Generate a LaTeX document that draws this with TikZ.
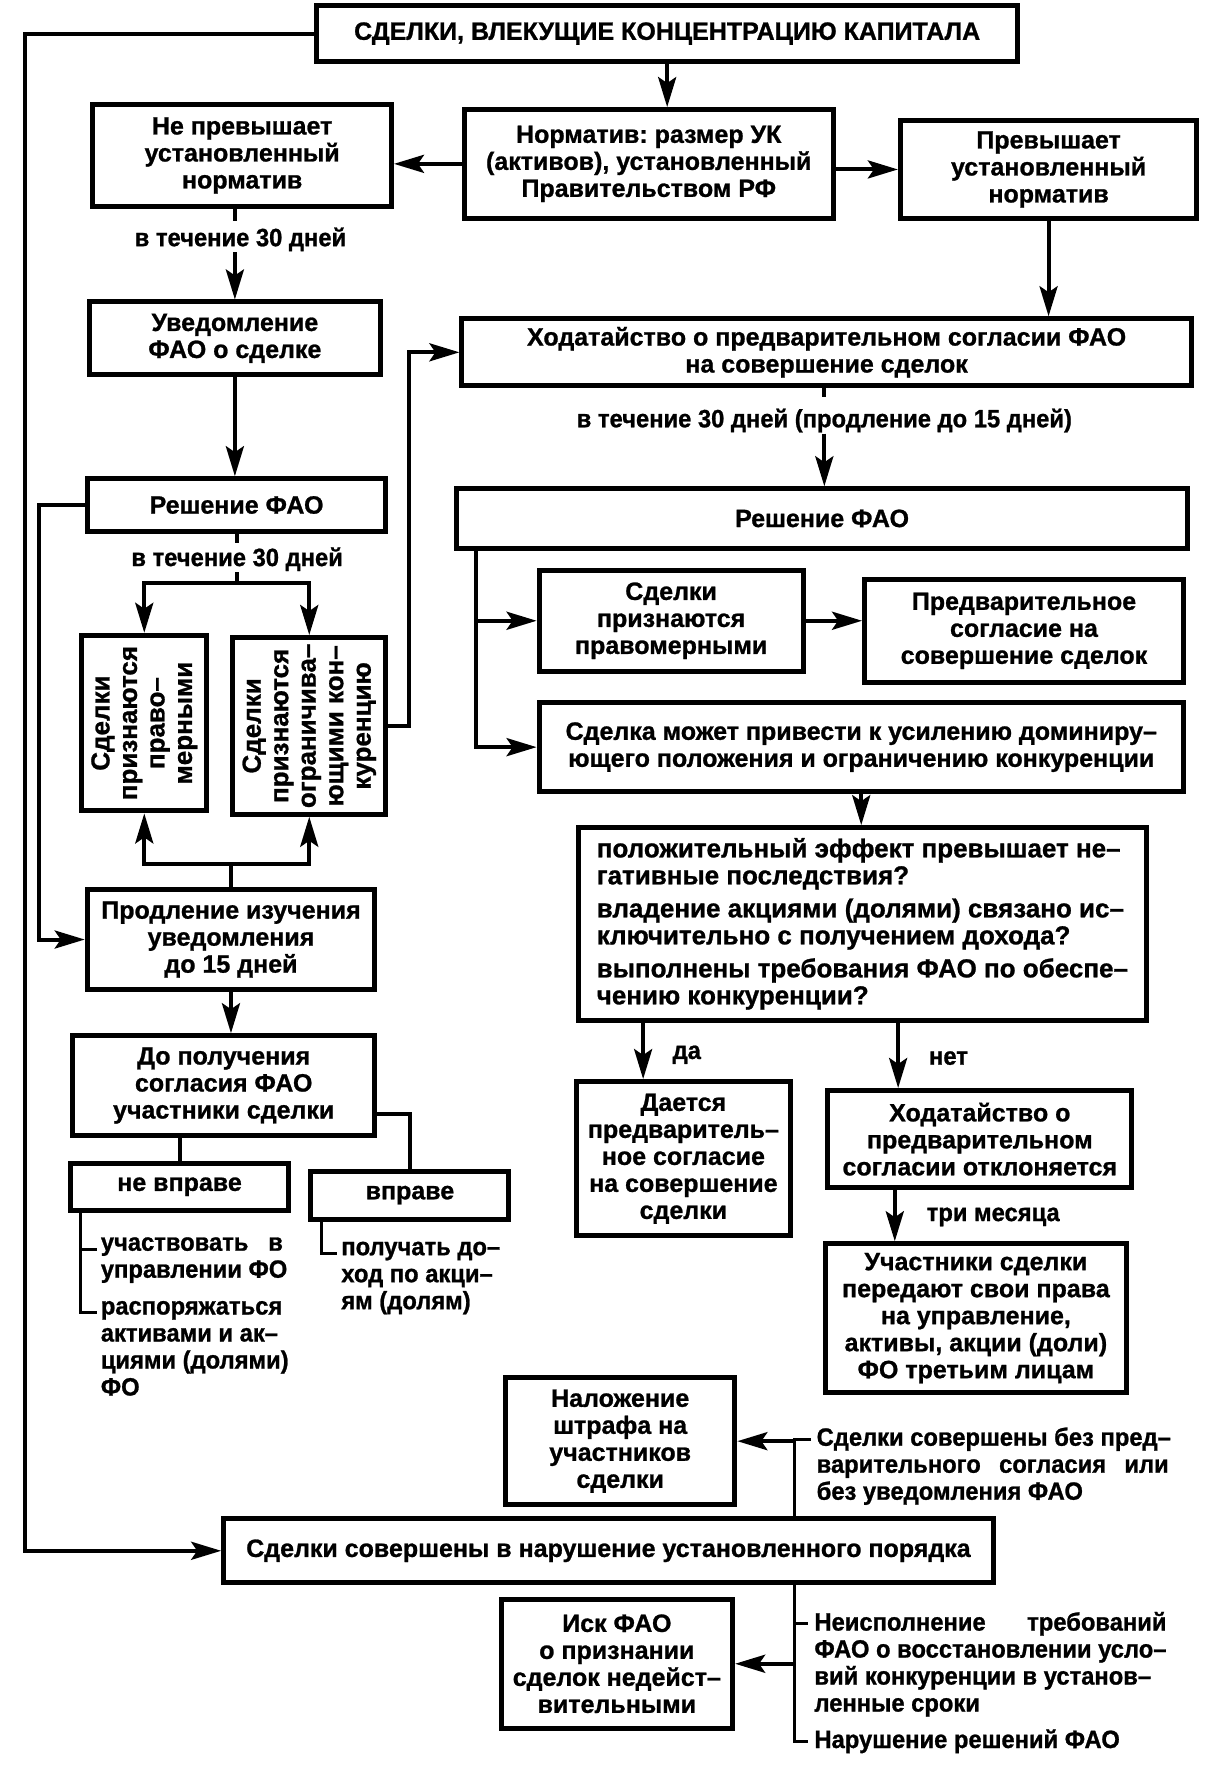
\documentclass[tikz,border=0pt]{standalone}
\usepackage{fontspec}
\setmainfont{Liberation Sans}[BoldFeatures={FakeBold=1}]
\newfontfamily\cond{Liberation Sans}[FakeStretch=0.95,BoldFeatures={FakeBold=1}]
\usetikzlibrary{arrows.meta,calc}
\frenchspacing
\newcommand\fs{\fontsize{25}{27}\selectfont\bfseries}
\newcommand\cfs{\cond\fontsize{25}{27}\selectfont\bfseries}
\tikzset{
  box/.style={draw, line width=5pt, inner sep=0pt, align=center, font=\fs},
  arr/.style={line width=4pt, -{Stealth[length=30pt,width=18pt,inset=6pt]}},
  ln/.style={line width=4pt},
  brk/.style={line width=3pt},
  lab/.style={font=\cfs, inner sep=1pt},
  txt/.style={font=\cfs, inner sep=0pt, align=left, anchor=north west},
  rot/.style={font=\fontsize{26}{27.5}\selectfont\bfseries, align=center, rotate=90, inner sep=0pt},
}
\newcommand\bx[6][]{\node[box,minimum width={(#4-#2)*1.1185pt},minimum height={(#5-#3)*1.1185pt},#1] (#6) at ({(#2+#4)/2},{(#3+#5)/2})}
\begin{document}
\begin{tikzpicture}[x=1.1185pt,y=-1.1185pt]
\useasboundingbox (0,0) rectangle (1080,1582.5);
% boxes
\bx{283}{5}{910}{55}{top}{СДЕЛКИ, ВЛЕКУЩИЕ КОНЦЕНТРАЦИЮ КАПИТАЛА};
\bx{415}{98}{745}{195}{nrm}{Норматив: размер УК\\(активов), установленный\\Правительством РФ};
\bx{83}{93}{350}{185}{nep}{Не превышает\\установленный\\норматив};
\bx{805}{108}{1070}{195}{prev}{Превышает\\установленный\\норматив};
\bx{80}{270}{340}{335}{uved}{Уведомление\\ФАО о сделке};
\bx{413}{285}{1065}{345}{hod}{Ходатайство о предварительном согласии ФАО\\на совершение сделок};
\bx{78}{428}{345}{475}{resL}{Решение ФАО};
\bx{73}{568}{185}{725}{v1}{};
\node[rot] (v1t) at (v1.center) {Сделки\\признаются\\право–\\мерными};
\bx{208}{570}{345}{728}{v2}{};
\node[rot] (v2t) at (v2.center) {Сделки\\признаются\\ограничива–\\ющими кон–\\куренцию};
\bx{78}{795}{335}{885}{prod}{Продление изучения\\уведомления\\до 15 дней};
\bx{65}{926}{335}{1015}{dopol}{До получения\\согласия ФАО\\участники сделки};
\bx{63}{1040}{258}{1082}{nevp}{не вправе};
\bx{278}{1047}{455}{1090}{vp}{вправе};
\bx{408}{437}{1062}{490}{resR}{Решение ФАО};
\bx{482}{510}{718}{600}{sp}{Сделки\\признаются\\правомерными};
\bx{773}{518}{1058}{610}{pred}{Предварительное\\согласие на\\совершение сделок};
\bx{482}{628}{1058}{708}{mozh}{Сделка может привести к усилению доминиру–\\ющего положения и ограничению конкуренции};
\bx[align=left,font=\fontsize{26}{27}\selectfont\bfseries]{517}{740}{1025}{912}{q}{положительный эффект превышает не–\\гативные последствия?\\[6pt]владение акциями (долями) связано ис–\\ключительно с получением дохода?\\[6pt]выполнены требования ФАО по обеспе–\\чению конкуренции?};
\bx{515}{967}{707}{1105}{daet}{Дается\\предваритель–\\ное согласие\\на совершение\\сделки};
\bx{740}{975}{1012}{1062}{otkl}{Ходатайство о\\предварительном\\согласии отклоняется};
\bx{738}{1112}{1007}{1245}{uch}{Участники сделки\\передают свои права\\на управление,\\активы, акции (доли)\\ФО третьим лицам};
\bx{452}{1232}{657}{1345}{nal}{Наложение\\штрафа на\\участников\\сделки};
\bx{200}{1358}{888}{1415}{viol}{Сделки совершены в нарушение установленного порядка};
\bx{448}{1430}{655}{1545}{isk}{Иск ФАО\\о признании\\сделок недейст–\\вительными};
% labels
\node[lab] (l1) at (215,214) {в течение 30 дней};
\node[lab] (l2) at (737,376) {в течение 30 дней (продление до 15 дней)};
\node[lab] (l3) at (212,500) {в течение 30 дней};
\node[lab] (lda) at (614,943) {да};
\node[lab] (lnet) at (848,946) {нет};
\node[lab] (l3m) at (888,1088) {три месяца};
% free texts
\node[txt] (t1) at (90,1106) {\makebox[182pt][s]{участвовать в}\\управлении ФО};
\node[txt] (t2) at (90,1163) {распоряжаться\\активами и ак–\\циями (долями)\\ФО};
\node[txt] (t3) at (305,1110) {получать до–\\ход по акци–\\ям (долям)};
\node[txt] (tb1) at (730,1276) {Сделки совершены без пред–\\\makebox[352pt][s]{варительного согласия или}\\без уведомления ФАО};
\node[txt] (tb2) at (728,1441) {\makebox[352pt][s]{Неисполнение требований}\\ФАО о восстановлении усло–\\вий конкуренции в установ–\\ленные сроки};
\node[txt] (tb3) at (728,1546) {Нарушение решений ФАО};
% helper coordinates
\coordinate (ax1) at (575,0);
\coordinate (ax2) at (803,0);
\coordinate (ax3) at (800,0);
\coordinate (ax4) at (710,0);
\coordinate (ax5) at (210,0);
% connectors top
\draw[arr] (top.south) -- (top.south |- nrm.north);
\draw[arr] (nrm.west) -- (nrm.west -| nep.east);
\draw[arr] (nrm.east |- prev.west) -- (prev.west);
\draw[ln] (nep.south -| ax5) -- ++(0,10);
\draw[arr] (l1.south -| ax5) -- (uved.north -| ax5);
\draw[arr] (prev.south) -- (prev.south |- hod.north);
\draw[arr] (uved.south) -- (uved.south |- resL.north);
\draw[ln] (hod.south -| l2) -- ++(0,8);
\draw[arr] (l2.south) -- (l2.south |- resR.north);
% left branch
\draw[ln] (resL.south) -- ++(0,8);
\draw[ln] (l3.south) -- ++(0,10) coordinate (s1);
\draw[arr] (s1) -| (v1.north);
\draw[arr] (s1) -| (v2.north);
\draw[arr] (v2.east) -- ++(18,0) |- (hod.west);
\draw[ln] (prod.north) -- ++(0,-20) coordinate (s2);
\draw[arr] (s2) -| (v1.south);
\draw[arr] (s2) -| (v2.south);
\draw[arr] (resL.west) -- ++(-41,0) |- (prod.west);
\draw[arr] (top.west) -- ++(-258,0) |- (viol.west);
\draw[arr] (prod.south) -- (prod.south |- dopol.north);
\draw[ln] (nevp.north |- dopol.south) -- (nevp.north);
\draw[ln] ([yshift=-28pt]dopol.east) -| (vp.north);
% brackets
\coordinate (k0) at ([xshift=13pt]nevp.south west);
\coordinate (k1) at ([xshift=-4pt,yshift=-12pt]t1.north west);
\coordinate (k2) at ([xshift=-4pt,yshift=-12pt]t2.north west);
\draw[brk] (k0) |- (k2);
\draw[brk] (k0 |- k1) -- (k1);
\coordinate (k3) at ([xshift=13pt]vp.south west);
\coordinate (k4) at ([xshift=-4pt,yshift=-12pt]t3.north west);
\draw[brk] (k3) |- (k4);
% right branch
\coordinate (s3) at ([xshift=22pt]resR.south west);
\draw[arr] (s3) |- (sp.west);
\draw[arr] (s3) |- (mozh.west);
\draw[arr] (sp.east) -- (sp.east -| pred.west);
\draw[arr] (mozh.south) -- (mozh.south |- q.north);
\draw[arr] (q.south -| ax1) -- (daet.north -| ax1);
\draw[arr] (q.south -| ax2) -- (otkl.north -| ax2);
\draw[arr] (otkl.south -| ax3) -- (uch.north -| ax3);
% bottom
\coordinate (k5) at ([xshift=-6pt,yshift=-12pt]tb1.north west);
\coordinate (k6) at ([xshift=-6pt,yshift=-12pt]tb2.north west);
\coordinate (k7) at ([xshift=-6pt,yshift=-12pt]tb3.north west);
\draw[brk] (viol.north -| ax4) |- (k5);
\draw[brk] (viol.south -| ax4) |- (k7);
\draw[brk] (ax4 |- k6) -- (k6);
\draw[arr] (nal.east -| ax4) -- (nal.east);
\draw[arr] (isk.east -| ax4) -- (isk.east);
\end{tikzpicture}
\end{document}
